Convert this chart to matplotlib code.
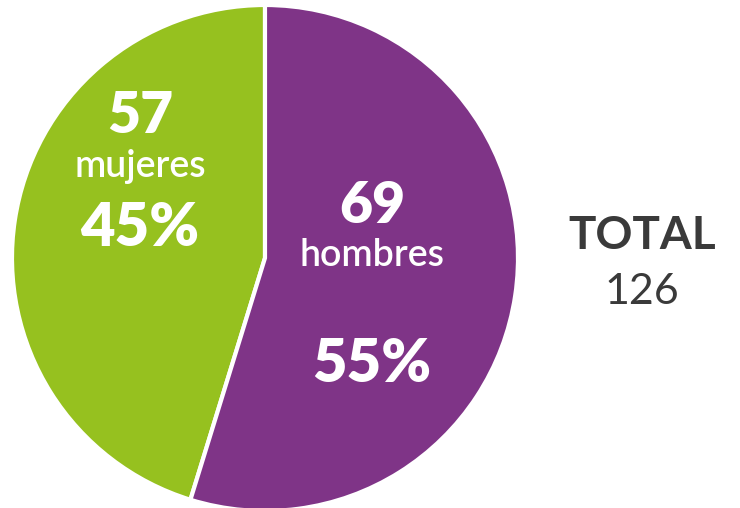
import matplotlib
matplotlib.use("Agg")
import matplotlib.pyplot as plt

labels = ["mujeres", "hombres"]
counts = [57, 69]
colors = ["#96C11F", "#7F3487"]
total = sum(counts)
percents = [round(100 * c / total) for c in counts]

W, H = 740, 508
fig = plt.figure(figsize=(W / 100, H / 100), dpi=100)
fig.patch.set_facecolor("white")

cx, cy, r = 265, 258, 253
ax = fig.add_axes([(cx - r) / W, (H - cy - r) / H, 2 * r / W, 2 * r / H])
ax.pie(counts, colors=colors, startangle=90, counterclock=True, radius=1,
       wedgeprops=dict(edgecolor="white", linewidth=3))
ax.set_xlim(-1, 1)
ax.set_ylim(-1, 1)
ax.set_aspect("equal")
ax.axis("off")

font = "Lato"

def put(px, py, s, size, weight="bold", color="white"):
    fig.text(px / W, 1 - py / H, s, ha="center", va="center", fontsize=size,
             fontweight=weight, color=color, family=[font, "DejaVu Sans"])

# mujeres wedge labels
put(140, 116, str(counts[0]), 41, "heavy")
put(140, 166, labels[0], 27, "semibold")
put(140, 229, f"{percents[0]}%", 43, "heavy")

# hombres wedge labels
put(372, 206, str(counts[1]), 41, "heavy")
put(372, 256, labels[1], 27, "semibold")
put(372, 365, f"{percents[1]}%", 43, "heavy")

# total
put(642, 236, "TOTAL", 33, "bold", "#3a3a3a")
put(642, 292, str(total), 31, "normal", "#3a3a3a")

fig.savefig("out.png", dpi=100, facecolor="white")
